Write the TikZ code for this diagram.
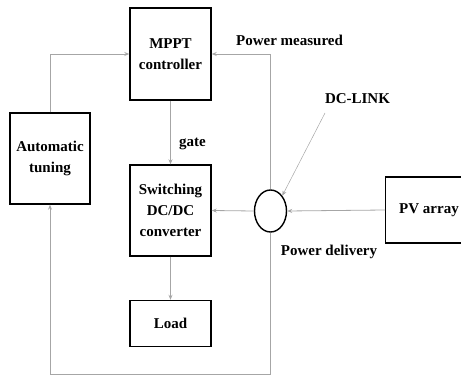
\documentclass[tikz,border=0pt]{standalone}
\usepackage{fontspec}
\setmainfont{Liberation Serif}
\usetikzlibrary{arrows.meta, shapes.geometric}
\tikzset{
    block/.style={draw, line width=1.4pt, align=center, font=\bfseries\fontsize{15}{21}\selectfont, inner sep=0pt},
    signal/.style={-{Stealth[length=5pt, width=4pt]}, gray!70, line width=0.8pt},
    wire/.style={gray!70, line width=0.8pt},
    label/.style={text=black, font=\bfseries\fontsize{15}{18}\selectfont}
}
\begin{document}
\begin{tikzpicture}[x=1pt, y=-1pt]
    \useasboundingbox (0,0) rectangle (461,377);
    % blocks
    \node[block, minimum width=81pt, minimum height=92pt] (mppt) at (170.5,54) {MPPT\\controller};
    \node[block, minimum width=80pt, minimum height=91pt] (tune) at (50,158.5) {Automatic\\tuning};
    \node[block, minimum width=81pt, minimum height=91pt] (conv) at (170.5,210.5) {Switching\\DC/DC\\converter};
    \node[block, minimum width=81pt, minimum height=46pt] (load) at (170.5,323.5) {Load};
    \node[block, minimum width=85pt, minimum height=66pt, anchor=west] (pv) at (385,210) {};
    \node[label] (pvtext) at (429,210) {PV array};
    \node[draw, ellipse, line width=1.4pt, minimum width=32pt, minimum height=42pt, inner sep=0pt] (link) at (270.5,211) {};
    % flows
    \draw[signal] (pv.west) -- (link.east);
    \draw[signal] (link.west) -- (conv.east);
    \draw[signal] (conv.south) -- (load.north);
    \draw[signal] (mppt.south) -- node[label, right, pos=0.68, xshift=5pt]{gate} (conv.north);
    \draw[signal] (link.north) |- (mppt.east);
    \draw[signal] (tune.north) |- (mppt.west);
    \coordinate (bot) at (270.5,374);
    \draw[wire] (link.south) -- (bot);
    \draw[signal] (bot) -| (tune.south);
    % labels
    \node[label] (meas) at (289.5,40) {Power measured};
    \node[label] (dclink) at (357.5,99) {DC-LINK};
    \node[label] (deliv) at (329,252) {Power delivery};
    \draw[-{Stealth[length=5pt, width=4pt]}, gray!70, line width=0.5pt] (325,113) -- (link.north east);
\end{tikzpicture}
\end{document}
